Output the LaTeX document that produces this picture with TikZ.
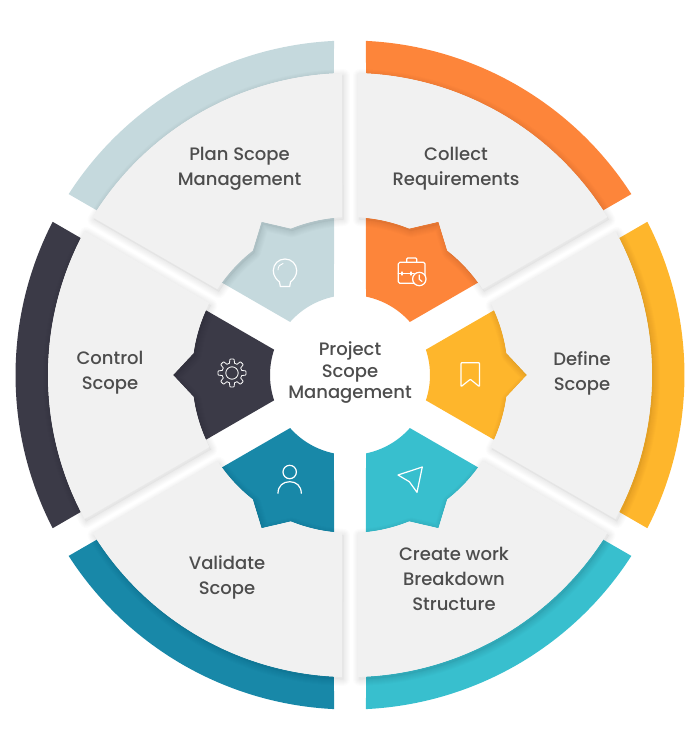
\documentclass[tikz,border=0pt]{standalone}
\usepackage{fontspec}
\setmainfont{Poppins}[UprightFont=* Medium]
\definecolor{cplan}{HTML}{C5D9DD}
\definecolor{corange}{HTML}{FD853A}
\definecolor{cyellow}{HTML}{FEB62C}
\definecolor{cteal}{HTML}{38BFCE}
\definecolor{cblue}{HTML}{1888A8}
\definecolor{cdark}{HTML}{3B3A47}
\definecolor{cgrey}{HTML}{F1F1F1}
\definecolor{ctext}{HTML}{4D4D4D}
\tikzset{
  ringpath/.style={insert path={(87.26:334.5) arc[start angle=87.26,end angle=32.74,radius=334.5] -- (33.04:302) arc[start angle=33.04,end angle=86.96,radius=302] -- cycle}},
  hubpath/.style={insert path={(84.19:158) arc[start angle=84.19,end angle=68,radius=158] -- (60:177) -- (52:158) arc[start angle=52,end angle=35.81,radius=158] -- (41.54:80) arc[start angle=41.54,end angle=78.46,radius=80] -- cycle}},
  greypath/.style={insert path={(88.48:302) arc[start angle=88.48,end angle=31.52,radius=302] -- (32.9:158) arc[start angle=32.9,end angle=52,radius=158] -- (60:177) -- (68:158) arc[start angle=68,end angle=87.1,radius=158] -- cycle}},
  label/.style={font=\fontsize{18}{25}\selectfont,text=ctext,align=center,inner sep=0pt},
  icon/.style={draw=white,line width=1.2pt,line join=round,line cap=round},
}
\begin{document}
\begin{tikzpicture}[x=1pt,y=1pt]
\useasboundingbox (-350,-375) rectangle (350,375);
% rings and hub pieces
\foreach \k/\c in {0/corange,-60/cyellow,-120/cteal,-180/cblue,120/cdark,60/cplan}{
  \begin{scope}[rotate=\k]
    \fill[\c] [ringpath];
    \fill[\c] [hubpath];
  \end{scope}
}
% soft shadows under the grey sectors, falling down and to the right
\foreach \k in {0,60,...,300}{
  \begin{scope}[shift={(1.5,-2.5)},rotate=\k]
    \foreach \w in {13,11,...,1}{
      \draw[black,opacity=0.011,line width=\w pt,line join=round] [greypath];
    }
    \fill[black,opacity=0.03] [greypath];
  \end{scope}
}
% grey sectors
\foreach \k in {0,60,...,300}{
  \begin{scope}[rotate=\k]
    \fill[cgrey] [greypath];
  \end{scope}
}
\begin{scope}[shift={(-350,375)},yscale=-1]
% labels
\node[label] (plan) at (239.5,168.5) {Plan Scope\\Management};
\node[label] (collect) at (456,168.5) {Collect\\Requirements};
\node[label] (define) at (582,373) {Define\\Scope};
\node[label] (create) at (454,579) {Create work\\Breakdown\\Structure};
\node[label] (validate) at (227,577) {Validate\\Scope};
\node[label] (control) at (110,373) {Control\\Scope};
\node[label,font=\fontsize{18}{21.5}\selectfont] (centre) at (350,373) {Project\\Scope\\Management};
% briefcase
\draw[icon,rounded corners=1.5pt] (398.3,262.3) rectangle (425,283.3);
\draw[icon,rounded corners=1pt] (406.7,262.3) -- (406.7,258) -- (416.7,258) -- (416.7,262.3);
\draw[icon] (398.3,273.3) -- (414,273.3);
\draw[icon] (402,272) -- (402,275);
\draw[icon] (411,272) -- (411,275);
\filldraw[icon,fill=corange] (419.3,279) circle[radius=6.7];
\draw[icon] (419.3,275) -- (419.3,279.3) -- (422,281.5);
% bulb
\draw[icon] (280.3,286.5) -- (279.5,282) .. controls (277,280) and (273.3,276) .. (273.3,270.7) .. controls (273.3,264) and (278.5,259) .. (285,259) .. controls (291.5,259) and (296.7,264) .. (296.7,270.7) .. controls (296.7,276) and (293,280) .. (290.5,282) -- (289.7,286.5) -- cycle;
\draw[icon,line width=.9pt] (278,270) .. controls (278,266.5) and (280,264) .. (283,263.5);
% gear
\draw[icon,line width=.8pt] plot[domain=0:360,samples=121,smooth] ({232+(12+2*max(min(2.5*cos(8*\x),1),-1))*cos(\x)},{373+(12+2*max(min(2.5*cos(8*\x),1),-1))*sin(\x)}) -- cycle;
\draw[icon,line width=.8pt] (232,373) circle[radius=6.2];
% bookmark
\draw[icon,rounded corners=.8pt] (461,386.7) -- (461,362.7) -- (479.5,362.7) -- (479.5,386.7) -- (470.3,379.3) -- cycle;
% paper plane
\draw[icon] (422.3,467) -- (398,475) -- (409.3,481.7) -- (417,492.3) -- cycle;
% person
\draw[icon] (289.7,472) circle[radius=6.7];
\draw[icon] (278,493.3) .. controls (278,486) and (283,481.7) .. (289.7,481.7) .. controls (296.3,481.7) and (301.3,486) .. (301.3,493.3);
\end{scope}
\end{tikzpicture}
\end{document}
